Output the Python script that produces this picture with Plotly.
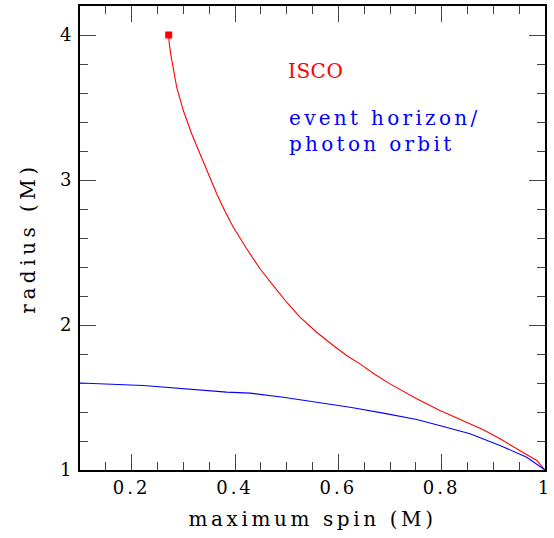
import plotly.graph_objects as go

# ISCO radius vs maximum spin
isco_spin = [0.2717, 0.2725, 0.2755, 0.2806, 0.2871, 0.300, 0.3161, 0.3322, 0.3484, 0.3646,
             0.3806, 0.3967, 0.4226, 0.4484, 0.4741, 0.500, 0.5258, 0.558, 0.5902, 0.616,
             0.6419, 0.671, 0.700, 0.7516, 0.7967, 0.8484, 0.8806, 0.9129, 0.958, 0.984, 1.0]
isco_radius = [4.0, 3.95, 3.87, 3.778, 3.640, 3.479, 3.319, 3.181, 3.038, 2.905,
               2.785, 2.674, 2.526, 2.388, 2.272, 2.157, 2.054, 1.950, 1.859, 1.790,
               1.732, 1.659, 1.594, 1.491, 1.410, 1.330, 1.277, 1.215, 1.123, 1.066, 1.0]

# event horizon / photon orbit
eh_spin = [0.1, 0.2225, 0.3839, 0.429, 0.4935, 0.5581, 0.6226, 0.687, 0.7516, 0.8031,
           0.8548, 0.9129, 0.9645, 1.0]
eh_radius = [1.6, 1.583, 1.537, 1.530, 1.502, 1.468, 1.433, 1.392, 1.348, 1.300,
             1.250, 1.169, 1.088, 1.0]

x_tickvals = [0.2, 0.4, 0.6, 0.8, 1.0]
x_ticktext = ["0.2", "0.4", "0.6", "0.8", "1"]
y_tickvals = [1, 2, 3, 4]
y_ticktext = ["1", "2", "3", "4"]

FONT = "DejaVu Serif"

fig = go.Figure()
fig.add_trace(go.Scatter(x=isco_spin, y=isco_radius, mode="lines",
                         line=dict(color="#ff0000", width=1.1),
                         showlegend=False, hoverinfo="skip"))
fig.add_trace(go.Scatter(x=[isco_spin[0]], y=[isco_radius[0]], mode="markers",
                         marker=dict(color="#ff0000", size=7, symbol="square"),
                         showlegend=False, hoverinfo="skip"))
fig.add_trace(go.Scatter(x=eh_spin, y=eh_radius, mode="lines",
                         line=dict(color="#0000ff", width=1.1),
                         showlegend=False, hoverinfo="skip"))

axis_common = dict(
    showgrid=False, zeroline=False, showline=True, linecolor="black", linewidth=2,
    mirror="ticks", ticks="inside", ticklen=16, tickwidth=1.3, tickcolor="#444",
    tickfont=dict(family=FONT, size=18, color="black"), automargin=False,
    ticklabeloverflow="allow",
)

fig.update_xaxes(range=[0.1, 1.0], tickvals=x_tickvals, ticktext=x_ticktext,
                 minor=dict(ticks="inside", ticklen=8, tickwidth=1.3, tickcolor="#444", dtick=0.05, tick0=0),
                 title=dict(text="maximum spin (M)", font=dict(family=FONT, size=20, color="black"), standoff=15),
                 **axis_common)
fig.update_yaxes(range=[1.0, 4.2], tickvals=y_tickvals, ticktext=y_ticktext,
                 minor=dict(ticks="inside", ticklen=8, tickwidth=1.3, tickcolor="#444", dtick=0.2, tick0=0),
                 title=dict(text="radius (M)", font=dict(family=FONT, size=20, color="black"), standoff=22),
                 **axis_common)

fig.add_annotation(x=0.5, y=3.75, xref="x", yref="y", text="ISCO", showarrow=False,
                   xanchor="left", yanchor="middle",
                   font=dict(family=FONT, size=20, color="#ff0000"))
fig.add_annotation(x=0.5, y=3.34, xref="x", yref="y", text="event horizon/<br>photon orbit",
                   showarrow=False, xanchor="left", yanchor="middle", align="left",
                   font=dict(family=FONT, size=20, color="#0000ff"))

fig.update_layout(width=554, height=538, plot_bgcolor="white", paper_bgcolor="white",
                  margin=dict(l=80, r=9, t=6, b=68))

post = """
document.body.style.margin = '0';
var st = document.createElement('style');
st.textContent = '.js-plotly-plot text{letter-spacing:3px;} ' +
  '.js-plotly-plot .annotation-text{letter-spacing:3.3px;} ' +
  '.js-plotly-plot text.xtitle{letter-spacing:3.6px;} ' +
  '.js-plotly-plot text.ytitle{letter-spacing:4.5px;}';
document.head.appendChild(st);
var gd = document.getElementById('{plot_id}');
function ls(){
  gd.querySelectorAll('text').forEach(function(t){
    if (t.textContent === 'ISCO') t.style.letterSpacing = '0.5px';
  });
}
ls();
gd.on('plotly_afterplot', ls);
"""

fig.write_html("out.html", post_script=post, config={"displayModeBar": False})
